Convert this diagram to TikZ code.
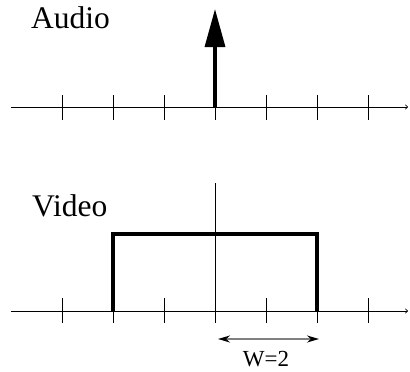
\documentclass[tikz,border=0pt]{standalone}
\usepackage{fontspec}
\setmainfont{Liberation Serif}
\usetikzlibrary{arrows.meta}
\begin{document}
\begin{tikzpicture}[x=1pt,y=-1pt,
  axis/.style={line width=1pt,-{To[length=3pt,width=5pt,line width=0.6pt]}},
  tick/.style={line width=1pt},
  thick line/.style={line width=3.3pt},
  label/.style={inner sep=0pt,anchor=base west,font=\fontsize{31.5}{36}\selectfont},
  wlabel/.style={inner sep=0pt,anchor=base,font=\fontsize{23}{26}\selectfont},
  widtharrow/.style={draw=gray,line width=1.6pt,
    {Stealth[length=12pt,width=7pt,black]}-{Stealth[length=12pt,width=7pt,black]}}]
\useasboundingbox (0,0) rectangle (410,372);
% labels
\node[label] (audio) at (31,28) {Audio};
\node[label] (video) at (32,216) {Video};
\node[wlabel] (w) at (266,366) {W=2};
% axes
\coordinate (a0) at (11,107); \coordinate (a1) at (408,107);
\coordinate (b0) at (11,311); \coordinate (b1) at (408,311);
\draw[axis] (a0) -- (a1);
\draw[axis] (b0) -- (b1);
% ticks
\foreach \i/\x in {1/62,2/113,3/164,4/215,5/266,6/317,7/368}{
  \coordinate (ta\i) at (\x,95); \coordinate (tb\i) at (\x,120);
  \coordinate (uc\i) at (\x,298); \coordinate (ud\i) at (\x,323);
  \draw[tick] (ta\i) -- (tb\i);
  \draw[tick] (uc\i) -- (ud\i);
}
% audio impulse
\coordinate (imp0) at (215,107); \coordinate (imp1) at (215,9);
\draw[line width=3.3pt,-{Triangle[length=38pt,width=20pt]}] (imp0) -- (imp1);
% video vertical line
\coordinate (v0) at (215,183); \coordinate (v1) at (215,323);
\draw[tick] (v0) -- (v1);
% video rectangle
\coordinate (r0) at (113,311); \coordinate (r1) at (113,234);
\coordinate (r2) at (317,234); \coordinate (r3) at (317,311);
\draw[thick line] (r0) -- (r1) -- (r2) -- (r3);
% width arrow
\coordinate (w0) at (218,339); \coordinate (w1) at (319,339);
\draw[widtharrow] (w0) -- (w1);
\end{tikzpicture}
\end{document}
